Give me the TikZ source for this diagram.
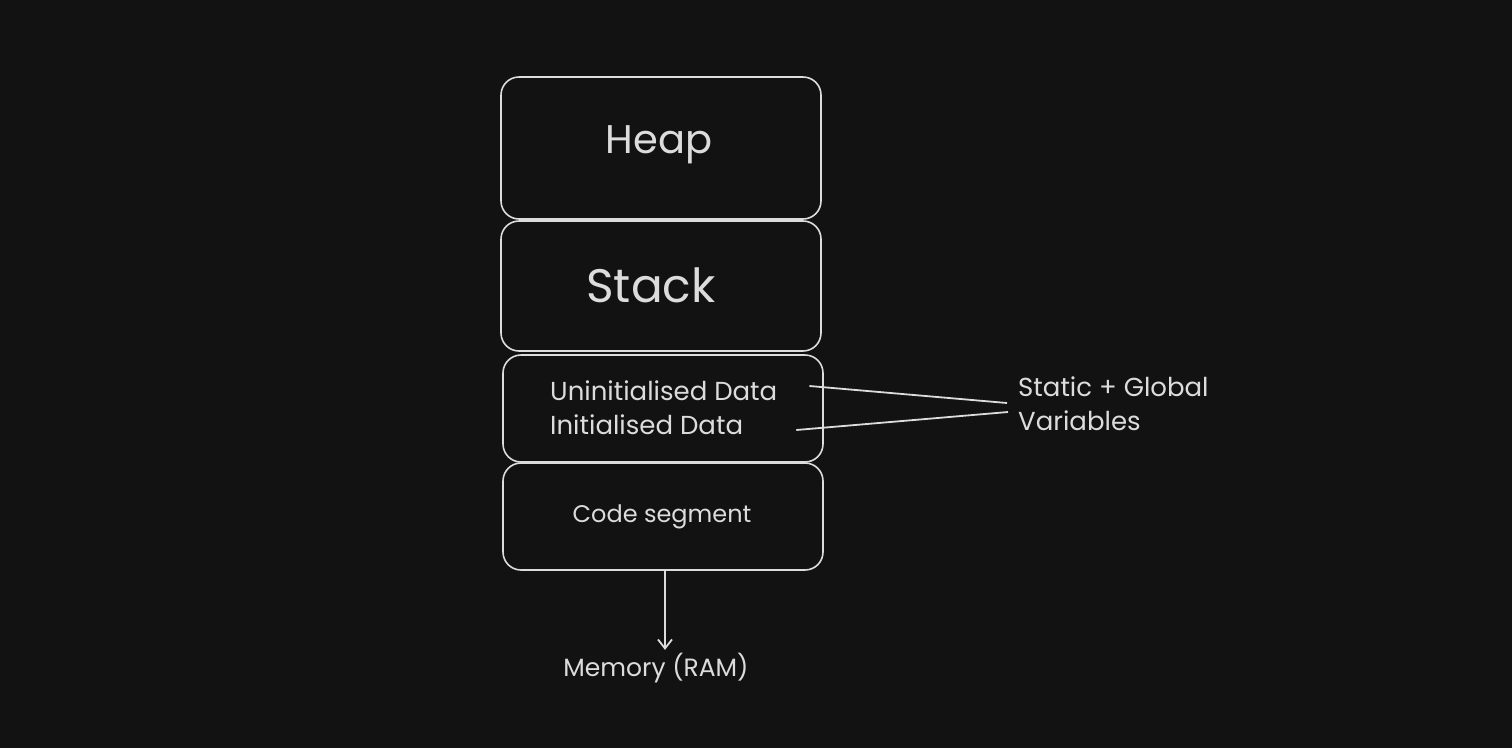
\documentclass[tikz,border=0pt]{standalone}
\usepackage{fontspec}
\setmainfont{Poppins}
\usetikzlibrary{arrows.meta}
\definecolor{bg}{HTML}{121212}
\definecolor{ink}{HTML}{DCDCDC}

\begin{document}
\begin{tikzpicture}[x=1pt,y=-1pt]
  \tikzstyle{segment}=[draw=ink,rounded corners=18pt,line width=1.6pt,minimum width=320pt,inner sep=0pt]
  \tikzstyle{label}=[text=ink,inner sep=0pt,font=\fontsize{26}{34}\selectfont]
  \tikzstyle{wire}=[draw=ink,line width=1.8pt]
  \fill[bg] (0,0) rectangle (1512,748);
  % memory segments
  \node[segment,minimum height=142pt] (heap) at (661,148) {};
  \node[label,font=\fontsize{40}{44}\selectfont] (heaptext) at (659,145) {Heap};
  \node[segment,minimum height=130pt] (stack) at (661,286) {};
  \node[label,font=\fontsize{47}{52}\selectfont] (stacktext) at (651,285) {Stack};
  \node[segment,minimum height=107pt] (data) at (663,408.5) {};
  \node[label,anchor=west] (uninit) at (550,391) {Uninitialised Data};
  \node[label,anchor=west] (init) at (550,425) {Initialised Data};
  \node[segment,minimum height=107pt] (code) at (663,516.5) {};
  \node[label,font=\fontsize{24}{30}\selectfont] (codetext) at (662,517) {Code segment};
  % side note and memory
  \node[label,anchor=west,align=left] (statics) at (1018,404) {Static + Global\\Variables};
  \node[label,font=\fontsize{25}{30}\selectfont] (memory) at (656,668) {Memory (RAM)};
  \draw[wire] ([xshift=32pt,yshift=5pt]uninit.east) -- ([xshift=-11pt,yshift=1pt]statics.west);
  \draw[wire] ([xshift=53pt,yshift=-5pt]init.east) -- ([xshift=-10pt,yshift=-8pt]statics.west);
  \draw[wire,-{Straight Barb[length=9pt,width=14pt]}] ([xshift=2pt]code.south) -- ([xshift=2pt,yshift=3pt]code.south |- memory.north);
\end{tikzpicture}
\end{document}
